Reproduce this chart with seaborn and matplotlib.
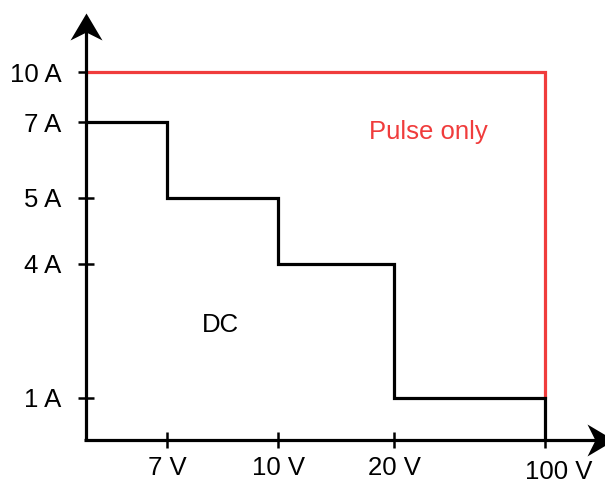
import numpy as np
import matplotlib
matplotlib.use("Agg")
import matplotlib.pyplot as plt
from matplotlib.path import Path
from matplotlib.scale import FuncScale
from matplotlib.transforms import ScaledTranslation
import seaborn as sns

# Operating envelope: DC current limit per voltage band, pulse limit above it
volts = [7, 10, 20, 100]
volt_labels = ["7 V", "10 V", "20 V", "100 V"]
dc_amps = [7, 5, 4, 1]
pulse_amps = 10
amp_ticks = [1, 4, 5, 7, 10]
amp_labels = ["1 A", "4 A", "5 A", "7 A", "10 A"]

sns.set_style("white")
plt.rcParams["font.family"] = ["Liberation Sans", "DejaVu Sans"]

W, H = 605, 483
fig = plt.figure(figsize=(W / 100, H / 100), dpi=100)
ax = fig.add_axes([0, 0, 1, 1])


def piecewise(vals, pos):
    """Schematic (non-linear) axis: piecewise-linear mapping value -> pixel."""
    vals = np.asarray(vals, float)
    pos = np.asarray(pos, float)

    def make(a, b):
        def f(v):
            v = np.asarray(v, float)
            out = np.interp(v, a, b)
            lo_slope = (b[1] - b[0]) / (a[1] - a[0])
            hi_slope = (b[-1] - b[-2]) / (a[-1] - a[-2])
            out = np.where(v < a[0], b[0] + (v - a[0]) * lo_slope, out)
            out = np.where(v > a[-1], b[-1] + (v - a[-1]) * hi_slope, out)
            return out
        return f

    return make(vals, pos), make(pos, vals)


x_fwd, x_inv = piecewise([0] + volts, [86, 167, 278, 394, 545])
y_fwd, y_inv = piecewise([0] + sorted(amp_ticks), [43.5, 85.5, 219.5, 285.5, 361, 411])
ax.set_xscale(FuncScale(ax.xaxis, (x_fwd, x_inv)))
ax.set_yscale(FuncScale(ax.yaxis, (y_fwd, y_inv)))
ax.set_xlim(float(x_inv(0)), float(x_inv(W)))
ax.set_ylim(float(y_inv(0)), float(y_inv(H)))

black = "#000000"
red = "#F03C3C"

# Pulse-only boundary
sns.lineplot(x=[0, volts[-1], volts[-1]], y=[pulse_amps, pulse_amps, dc_amps[-1]],
             estimator=None, sort=False, color=red, lw=2.3, ax=ax,
             solid_joinstyle="miter", zorder=3)

# DC staircase
step_x = [0] + volts + [volts[-1]]
step_y = dc_amps + [dc_amps[-1], 0]
sns.lineplot(x=step_x, y=step_y, estimator=None, sort=False,
             drawstyle="steps-post", color=black, lw=2.3, ax=ax,
             solid_joinstyle="miter", zorder=4)

# Axes through the origin; ticks follow the spine position
ax.spines["top"].set_visible(False)
ax.spines["right"].set_visible(False)
ax.spines["left"].set_position(("data", 0))
ax.spines["bottom"].set_position(("data", 0))
ax.spines["left"].set_color("none")
ax.spines["bottom"].set_color("none")

ox, oy = 86 / W, 1 - 439.5 / H
ax.plot([ox, ox], [oy, 1 - 30 / H], transform=ax.transAxes, color=black,
        lw=2.3, clip_on=False, zorder=5, solid_capstyle="butt")
ax.plot([84 / W, 598 / W], [oy, oy], transform=ax.transAxes, color=black,
        lw=2.3, clip_on=False, zorder=5, solid_capstyle="butt")

L, hw, notch = 27.0, 16.0, 19.0
up = Path(np.array([(0, 0), (-hw, -L), (0, -notch), (hw, -L), (0, 0)]) / L,
          [Path.MOVETO, Path.LINETO, Path.LINETO, Path.LINETO, Path.CLOSEPOLY])
right = Path(np.array([(0, 0), (-L, hw), (-notch, 0), (-L, -hw), (0, 0)]) / L,
             [Path.MOVETO, Path.LINETO, Path.LINETO, Path.LINETO, Path.CLOSEPOLY])
ms = 2 * L * 72 / 100
ax.plot([ox], [1 - 13 / H], marker=up, ms=ms, color=black, mew=0,
        transform=ax.transAxes, clip_on=False, zorder=6)
ax.plot([614 / W], [oy], marker=right, ms=ms, color=black, mew=0,
        transform=ax.transAxes, clip_on=False, zorder=6)

# Ticks
ax.set_xticks(volts, volt_labels)
ax.set_yticks(amp_ticks, amp_labels)
ax.minorticks_off()
ax.tick_params(axis="both", direction="inout", length=11.5, width=1.8,
               color=black, labelcolor=black, labelsize=18.5,
               bottom=True, left=True)
ax.tick_params(axis="y", pad=12)
ax.tick_params(axis="x", pad=6)
last = ax.xaxis.get_major_ticks()[-1].label1
last.set_transform(last.get_transform()
                   + ScaledTranslation(14 / 100, -4 / 100, fig.dpi_scale_trans))

# Region labels
ax.text(428 / W, 1 - 132 / H, "Pulse only", color=red, fontsize=18.5,
        ha="center", va="center", transform=ax.transAxes)
ax.text(220 / W, 1 - 325 / H, "DC", color=black, fontsize=18.5,
        ha="center", va="center", transform=ax.transAxes)

ax.grid(False)
fig.savefig("out.png", dpi=100)
